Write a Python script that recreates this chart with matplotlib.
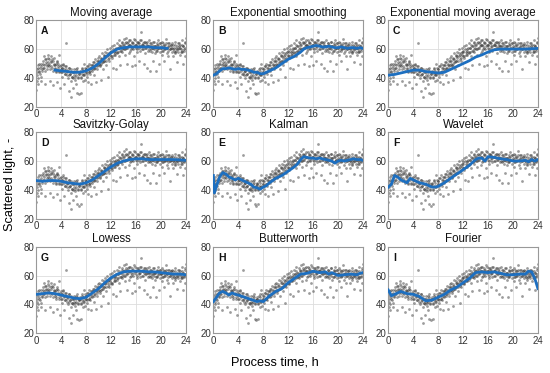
import matplotlib
matplotlib.use("Agg")
import matplotlib.pyplot as plt

scatter_t = [
    0.0, 0.05, 0.1, 0.2, 0.25, 0.3, 0.4, 0.5, 0.6, 0.7, 0.8, 0.9,
    1.0, 1.1, 1.2, 1.3, 1.4, 1.5, 1.6, 1.7, 1.8, 1.9,
    2.0, 2.1, 2.2, 2.3, 2.4, 2.5, 2.6, 2.7, 2.8, 2.9,
    3.0, 3.1, 3.2, 3.3, 3.4, 3.5, 3.6, 3.7, 3.8, 3.9,
    4.0, 4.1, 4.2, 4.3, 4.4, 4.5, 4.6, 4.7, 4.8, 4.9,
    5.0, 5.1, 5.2, 5.3, 5.4, 5.5, 5.6, 5.7, 5.8, 5.9,
    6.0, 6.1, 6.2, 6.3, 6.4, 6.5, 6.6, 6.7, 6.8, 6.9,
    7.0, 7.1, 7.2, 7.3, 7.4, 7.5, 7.6, 7.7, 7.8, 7.9,
    8.0, 8.1, 8.2, 8.3, 8.4, 8.5, 8.6, 8.7, 8.8, 8.9,
    9.0, 9.1, 9.2, 9.3, 9.4, 9.5, 9.6, 9.7, 9.8, 9.9,
    10.0, 10.1, 10.2, 10.3, 10.4, 10.5, 10.6, 10.7, 10.8, 10.9,
    11.0, 11.1, 11.2, 11.3, 11.4, 11.5, 11.6, 11.7, 11.8, 11.9,
    12.0, 12.1, 12.2, 12.3, 12.4, 12.5, 12.6, 12.7, 12.8, 12.9,
    13.0, 13.1, 13.2, 13.3, 13.4, 13.5, 13.6, 13.7, 13.8, 13.9,
    14.0, 14.1, 14.2, 14.3, 14.4, 14.5, 14.6, 14.7, 14.8, 14.9,
    15.0, 15.1, 15.2, 15.3, 15.4, 15.5, 15.6, 15.7, 15.8, 15.9,
    16.0, 16.1, 16.2, 16.3, 16.4, 16.5, 16.6, 16.7, 16.8, 16.9,
    17.0, 17.1, 17.2, 17.3, 17.4, 17.5, 17.6, 17.7, 17.8, 17.9,
    18.0, 18.1, 18.2, 18.3, 18.4, 18.5, 18.6, 18.7, 18.8, 18.9,
    19.0, 19.1, 19.2, 19.3, 19.4, 19.5, 19.6, 19.7, 19.8, 19.9,
    20.0, 20.1, 20.2, 20.3, 20.4, 20.5, 20.6, 20.7, 20.8, 20.9,
    21.0, 21.1, 21.2, 21.3, 21.4, 21.5, 21.6, 21.7, 21.8, 21.9,
    22.0, 22.1, 22.2, 22.3, 22.4, 22.5, 22.6, 22.7, 22.8, 22.9,
    23.0, 23.1, 23.2, 23.3, 23.4, 23.5, 23.6, 23.7, 23.8, 23.9, 24.0,
]
scatter_y = [
    32, 44, 38, 47, 40, 36, 45, 50, 43, 48, 38, 46,
    52, 47, 55, 49, 36, 53, 50, 46, 56, 51,
    48, 53, 38, 51, 55, 47, 52, 35, 49, 54,
    46, 50, 44, 52, 37, 48, 56, 45, 33, 49,
    44, 47, 41, 50, 46, 36, 43, 64, 48, 42,
    45, 40, 47, 31, 43, 38, 27, 44, 41, 33,
    46, 42, 39, 44, 36, 47, 30, 41, 43, 29,
    45, 40, 30, 43, 47, 38, 42, 50, 39, 44,
    46, 41, 48, 37, 44, 50, 43, 47, 36, 49,
    45, 51, 47, 42, 53, 49, 37, 52, 46, 54,
    50, 55, 48, 39, 53, 57, 51, 46, 56, 52,
    58, 54, 49, 60, 55, 41, 57, 52, 61, 56,
    59, 54, 62, 47, 58, 63, 56, 60, 46, 64,
    57, 61, 66, 55, 62, 49, 59, 65, 58, 63,
    67, 60, 56, 64, 68, 50, 61, 65, 57, 63,
    59, 66, 62, 48, 64, 60, 67, 55, 63, 49,
    61, 65, 58, 64, 52, 62, 66, 59, 72, 63,
    60, 64, 50, 62, 57, 65, 61, 47, 63, 59,
    66, 60, 62, 45, 64, 58, 61, 52, 65, 60,
    62, 57, 45, 63, 59, 66, 61, 50, 64, 58,
    61, 65, 56, 62, 59, 52, 63, 60, 67, 57,
    61, 64, 55, 62, 46, 60, 63, 58, 61, 55,
    63, 59, 65, 57, 61, 51, 60, 64, 58, 62,
    56, 63, 60, 66, 58, 50, 62, 59, 64, 55, 68,
]
# denser core of measurements near the trend
core_t = [
    0.05, 0.18, 0.32, 0.43, 0.55, 0.68, 0.82, 0.93,
    1.05, 1.18, 1.32, 1.43, 1.55, 1.68, 1.82, 1.93,
    2.05, 2.18, 2.32, 2.43, 2.55, 2.68, 2.82, 2.93,
    3.05, 3.18, 3.32, 3.43, 3.55, 3.68, 3.82, 3.93,
    4.05, 4.18, 4.32, 4.43, 4.55, 4.68, 4.82, 4.93,
    5.05, 5.18, 5.32, 5.43, 5.55, 5.68, 5.82, 5.93,
    6.05, 6.18, 6.32, 6.43, 6.55, 6.68, 6.82, 6.93,
    7.05, 7.18, 7.32, 7.43, 7.55, 7.68, 7.82, 7.93,
    8.05, 8.18, 8.32, 8.43, 8.55, 8.68, 8.82, 8.93,
    9.05, 9.18, 9.32, 9.43, 9.55, 9.68, 9.82, 9.93,
    10.05, 10.18, 10.32, 10.43, 10.55, 10.68, 10.82, 10.93,
    11.05, 11.18, 11.32, 11.43, 11.55, 11.68, 11.82, 11.93,
    12.05, 12.18, 12.32, 12.43, 12.55, 12.68, 12.82, 12.93,
    13.05, 13.18, 13.32, 13.43, 13.55, 13.68, 13.82, 13.93,
    14.05, 14.18, 14.32, 14.43, 14.55, 14.68, 14.82, 14.93,
    15.05, 15.18, 15.32, 15.43, 15.55, 15.68, 15.82, 15.93,
    16.05, 16.18, 16.32, 16.43, 16.55, 16.68, 16.82, 16.93,
    17.05, 17.18, 17.32, 17.43, 17.55, 17.68, 17.82, 17.93,
    18.05, 18.18, 18.32, 18.43, 18.55, 18.68, 18.82, 18.93,
    19.05, 19.18, 19.32, 19.43, 19.55, 19.68, 19.82, 19.93,
    20.05, 20.18, 20.32, 20.43, 20.55, 20.68, 20.82, 20.93,
    21.05, 21.18, 21.32, 21.43, 21.55, 21.68, 21.82, 21.93,
    22.05, 22.18, 22.32, 22.43, 22.55, 22.68, 22.82, 22.93,
    23.05, 23.18, 23.32, 23.43, 23.55, 23.68, 23.82, 23.93,
]
core_y = [
    46, 42, 49, 44, 47, 41, 50, 45,
    50, 47, 53, 45, 51, 48, 54, 49,
    50, 46, 52, 48, 53, 45, 50, 47,
    49, 45, 51, 47, 50, 44, 48, 46,
    47, 44, 49, 45, 48, 43, 46, 44,
    45, 42, 47, 43, 46, 41, 44, 40,
    44, 41, 46, 42, 45, 40, 43, 44,
    44, 41, 46, 42, 45, 43, 47, 44,
    46, 43, 48, 44, 47, 45, 49, 46,
    49, 46, 51, 47, 50, 48, 52, 49,
    52, 49, 54, 50, 53, 51, 55, 52,
    55, 52, 57, 53, 56, 54, 58, 55,
    58, 55, 60, 56, 59, 57, 61, 58,
    61, 58, 63, 59, 62, 60, 64, 61,
    63, 60, 65, 61, 64, 62, 66, 63,
    63, 60, 65, 61, 64, 62, 66, 63,
    63, 60, 65, 61, 64, 62, 66, 63,
    63, 60, 65, 61, 64, 62, 65, 62,
    62, 59, 64, 60, 63, 61, 65, 62,
    62, 59, 64, 60, 63, 61, 64, 61,
    62, 59, 64, 60, 63, 61, 64, 61,
    62, 59, 64, 60, 63, 61, 64, 60,
    61, 58, 63, 59, 62, 60, 64, 61,
    61, 58, 63, 59, 62, 60, 65, 61,
]

# ---- smoothed curves ----
ma_t = [3, 4, 5, 6, 7, 8, 9, 10, 11, 12, 13, 14, 15, 16, 17, 18, 19, 20, 21]
ma_y = [45.5, 45, 44.5, 44, 44, 45, 47, 50, 54, 57.5, 60, 61, 61.5, 61.5, 61.5, 61.5, 61, 61, 60.5]

es_t = [0, 0.5, 1, 1.5, 2, 2.5, 3, 3.5, 4, 4.5, 5, 5.5, 6, 6.5, 7, 7.5, 8, 8.5, 9, 9.5, 10, 10.5, 11, 11.5,
        12, 12.5, 13, 13.5, 14, 14.5, 15, 15.5, 16, 16.5, 17, 17.5, 18, 18.5, 19, 19.5, 20, 20.5, 21,
        21.5, 22, 22.5, 23, 23.5, 24]
es_y = [42, 43, 45, 46.5, 46.5, 47, 46.5, 46, 46.5, 46, 46, 45.5, 45, 44, 44, 43, 43, 44, 45, 46, 47, 48.5, 50,
        51.5, 53, 54, 55, 56.5, 58, 60, 61, 61.5, 62, 62.5, 62, 61.5, 61.5, 62, 61.5, 61, 61, 61.5, 61,
        60.5, 61, 61, 60.5, 61, 60.5]

ema_t = [0, 1, 2, 3, 4, 5, 6, 7, 8, 9, 10, 11, 12, 13, 14, 15, 16, 17, 18, 20, 22, 24]
ema_y = [42, 42.5, 43.5, 44.5, 45.5, 45.5, 44.5, 44, 43.5, 44, 46, 48, 50, 52, 54.5, 56, 58, 59.5, 60, 60, 60, 60.5]

sg_t = [0, 1, 2, 3, 4, 5, 6, 7, 8, 9, 10, 11, 12, 13, 14, 15, 16, 17, 18, 20, 22, 24]
sg_y = [46.5, 46, 46.5, 46.5, 46, 45, 44.5, 44, 45, 47, 50, 53, 56, 58.5, 60, 61, 61.5, 61.5, 61, 61, 61, 60.5]

kal_t = [0, 0.15, 0.3, 0.6, 1, 1.5, 2, 2.5, 3, 3.5, 4, 4.5, 5, 5.5, 6, 6.5, 7, 7.5, 8, 8.5, 9, 9.5, 10, 10.5,
         11, 11.5, 12, 12.5, 13, 13.5, 14, 14.5, 15, 15.5, 16, 16.5, 17, 17.5, 18, 18.5, 19, 19.5, 20,
         20.5, 21, 21.5, 22, 22.5, 23, 23.5, 24]
kal_y = [50, 38, 40, 44, 49, 52, 51, 49, 48, 47, 48, 47, 46, 45, 44, 42, 41.5, 40.5, 42, 43, 45, 46.5, 48,
         49, 50, 51.5, 53, 54.5, 56, 58, 61, 63, 62.5, 62, 62, 61.5, 62, 61.5, 61, 60.5, 60, 58.5, 60,
         60.5, 60, 60.5, 61, 61.5, 61, 61, 60.5]

wav_t = [0, 0.5, 1, 1.5, 2, 2.5, 3, 3.5, 4, 4.5, 5, 5.5, 6, 6.5, 7, 7.5, 8, 9, 10, 11, 12, 13, 14, 14.5, 15,
         15.5, 16, 17, 18, 19, 20, 21, 22, 22.5, 23, 23.5, 24]
wav_y = [42, 44, 50, 49, 47, 46, 45, 48, 47, 46, 45, 44.5, 44, 43, 42, 42, 42.5, 45, 48, 51, 54, 57, 61, 62,
         62, 60, 63, 62.5, 61.5, 61, 60, 60, 60.5, 59.5, 61, 60, 61]

low_t = [0, 1, 2, 3, 4, 5, 6, 7, 8, 9, 10, 11, 12, 13, 14, 15, 16, 17, 18, 19, 20, 21, 22, 23, 24]
low_y = [47, 47.5, 48, 47.5, 46.5, 45.5, 44.5, 44, 45, 48, 51, 55, 58.5, 61, 62.5, 63, 63, 63, 62.5, 62.5,
         62, 61.5, 61, 61, 60.5]

but_t = [0, 0.5, 1, 1.5, 2, 2.5, 3, 3.5, 4, 5, 6, 7, 7.5, 8, 9, 10, 11, 12, 13, 14, 15, 16, 17, 18, 18.5,
         19, 20, 21, 22, 23, 23.5, 24]
but_y = [42, 45, 48, 49, 48, 46.5, 48, 47, 46.5, 45, 43.5, 42, 42.5, 42, 46, 49, 51, 55, 58, 61, 61.5, 63,
         62, 62.5, 61, 62, 60, 60.5, 61, 60.5, 61.5, 62]

fou_t = [0, 0.5, 1, 2, 3, 4, 5, 6, 7, 8, 9, 10, 11, 12, 13, 14, 15, 16, 17, 18, 19, 20, 21, 22, 22.5, 23,
         23.5, 24]
fou_y = [50, 46, 47, 49, 47.5, 47, 45.5, 42.5, 43, 45, 47, 50, 52, 55, 58, 62, 62.5, 62, 62.5, 61.5, 60.5,
         60.5, 61, 61, 63, 62.5, 58, 51]

titles = ["Moving average", "Exponential smoothing", "Exponential moving average",
          "Savitzky-Golay", "Kalman", "Wavelet",
          "Lowess", "Butterworth", "Fourier"]
letters = ["A", "B", "C", "D", "E", "F", "G", "H", "I"]
curves = [(ma_t, ma_y), (es_t, es_y), (ema_t, ema_y),
          (sg_t, sg_y), (kal_t, kal_y), (wav_t, wav_y),
          (low_t, low_y), (but_t, but_y), (fou_t, fou_y)]
x_ticks = [0, 4, 8, 12, 16, 20, 24]
y_ticks = [20, 40, 60, 80]

plt.rcParams['font.family'] = ['Liberation Sans', 'DejaVu Sans']
fig = plt.figure(figsize=(5.5, 3.73), dpi=100)

lefts = [0.066, 0.388, 0.706]
bottoms = [0.713, 0.413, 0.106]
w, h = 0.272, 0.233
line_color = "#1d6fc0"

for i in range(9):
    r, c = divmod(i, 3)
    ax = fig.add_axes([lefts[c], bottoms[r], w, h])
    ax.scatter(scatter_t, scatter_y, s=4, color="#3a3a3a", alpha=0.5, linewidths=0, zorder=2)
    ax.scatter(core_t, core_y, s=4, color="#3a3a3a", alpha=0.5, linewidths=0, zorder=2)
    ct, cy = curves[i]
    ax.plot(ct, cy, color=line_color, lw=2.0, zorder=3)
    ax.set_xlim(0, 24)
    ax.set_ylim(20, 80)
    ax.set_xticks(x_ticks)
    ax.set_yticks(y_ticks)
    ax.grid(True, color="#dddddd", lw=0.6, zorder=0)
    ax.tick_params(length=0, labelsize=7, pad=1.5, colors="#333333")
    for s in ax.spines.values():
        s.set_color("#999999")
        s.set_linewidth(0.8)
    ax.set_title(titles[i], fontsize=8.3, pad=3, color="#111111")
    ax.text(0.03, 0.93, letters[i], transform=ax.transAxes, fontsize=7.5, fontweight="bold",
            va="top", ha="left", color="#111111")

fig.text(0.018, 0.505, "Scattered light, -", rotation=90, fontsize=9.2, va="center", ha="center")
fig.text(0.5, 0.027, "Process time, h", fontsize=9.2, va="center", ha="center")

fig.savefig("out.png", dpi=100)
